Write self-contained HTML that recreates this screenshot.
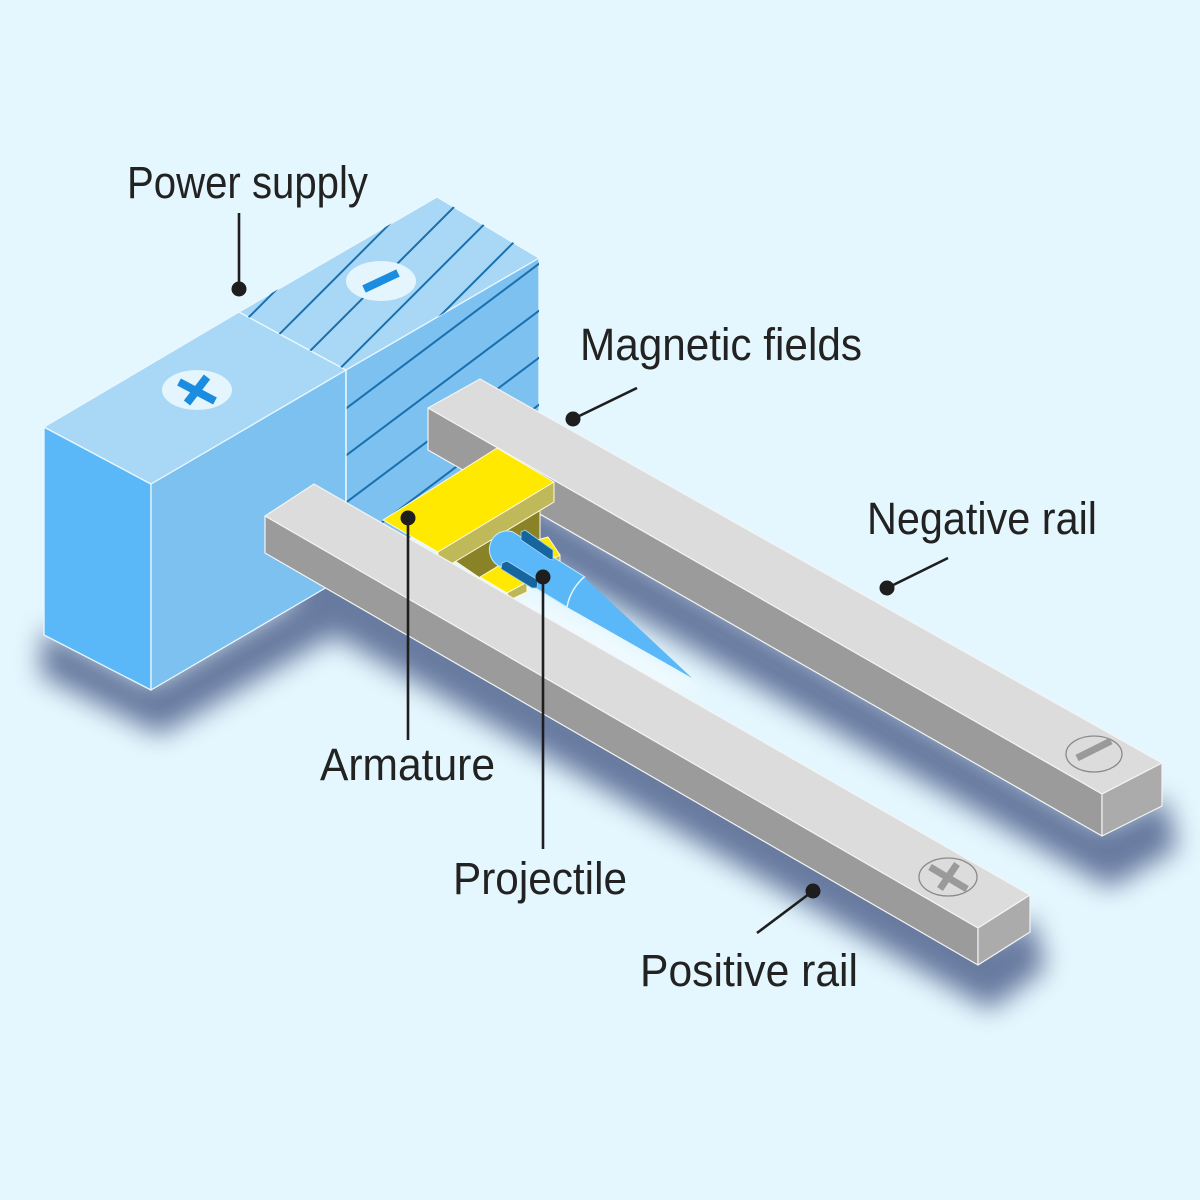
<!DOCTYPE html>
<html>
<head>
<meta charset="utf-8">
<style>
  html,body{margin:0;padding:0;background:#e5f7fe;}
  svg{display:block;}
  text{font-family:"Liberation Sans Narrow","Liberation Sans",sans-serif;fill:#222;font-size:45px;}
</style>
</head>
<body>
<svg width="1200" height="1200" viewBox="0 0 1200 1200" xmlns="http://www.w3.org/2000/svg">
  <defs>
    <filter id="blur" x="-30%" y="-30%" width="160%" height="160%"><feGaussianBlur stdDeviation="13"/></filter>
    <filter id="blur2" x="-30%" y="-30%" width="160%" height="160%"><feGaussianBlur stdDeviation="7"/></filter>
    <clipPath id="topMinus"><polygon points="239,312 437,197 539,258 346,370"/></clipPath>
    <clipPath id="rightMinus"><polygon points="346,370 539,258 539,463 346,576"/></clipPath>
  </defs>

  <rect width="1200" height="1200" fill="#e5f7fe"/>

  <!-- shadows -->
  <g filter="url(#blur)" fill="#5a6d95" opacity="0.9">
    <polygon points="44,628 151,684 330,580 335,635 160,735 40,675"/>
    <polygon points="300,540 990,940 1032,918 1046,968 990,1010 290,610"/>
    <polygon points="430,440 1102,826 1165,798 1178,848 1110,888 430,500"/>
  </g>

  <!-- glow near projectile -->
  <polygon points="510,588 600,628 700,688 650,698 520,628" fill="#eefaff" filter="url(#blur2)"/>

  <!-- power supply box -->
  <g stroke="#eaf7ff" stroke-width="1.3" stroke-linejoin="round">
    <polygon points="44,427 151,484 151,690 44,635" fill="#5ab8f8"/>
    <polygon points="151,484 346,370 346,576 151,690" fill="#7cc1ef"/>
    <polygon points="346,370 539,258 539,463 346,576" fill="#7cc1ef"/>
    <polygon points="44,427 239,312 346,370 151,484" fill="#a8d8f6"/>
    <polygon points="239,312 437,197 539,258 346,370" fill="#a8d8f6"/>
  </g>

  <!-- hatch on minus block -->
  <g clip-path="url(#topMinus)" stroke="#1a6fae" stroke-width="2">
    <line x1="200" y1="366" x2="600" y2="-34"/>
    <line x1="200" y1="413.5" x2="600" y2="13.5"/>
    <line x1="200" y1="461" x2="600" y2="61"/>
    <line x1="200" y1="508.5" x2="600" y2="108.5"/>
    <line x1="200" y1="556" x2="600" y2="156"/>
  </g>
  <g clip-path="url(#rightMinus)" stroke="#1a6fae" stroke-width="2">
    <line x1="340" y1="413" x2="545" y2="259.25"/>
    <line x1="340" y1="460" x2="545" y2="306.25"/>
    <line x1="340" y1="507" x2="545" y2="353.25"/>
    <line x1="340" y1="554" x2="545" y2="400.25"/>
    <line x1="340" y1="601" x2="545" y2="447.25"/>
    <line x1="340" y1="648" x2="545" y2="494.25"/>
    <line x1="340" y1="695" x2="545" y2="541.25"/>
  </g>
  <line x1="346" y1="370" x2="346" y2="576" stroke="#eaf7ff" stroke-width="1.3"/>

  <!-- box symbols -->
  <ellipse cx="197" cy="390" rx="35" ry="20" fill="#e4f5fd"/>
  <line x1="179" y1="382" x2="215" y2="401" stroke="#1a8de0" stroke-width="8"/>
  <line x1="207" y1="377" x2="187" y2="403" stroke="#1a8de0" stroke-width="8"/>
  <ellipse cx="381" cy="281" rx="35" ry="20" fill="#e4f5fd"/>
  <line x1="364" y1="289" x2="398" y2="273" stroke="#1a8de0" stroke-width="8"/>

  <!-- negative rail -->
  <g stroke="#f4f4f4" stroke-width="1.2" stroke-linejoin="round">
    <polygon points="428,408 480,379 1162,763 1102,794" fill="#dcdcdc"/>
    <polygon points="428,408 1102,794 1102,836 428,450" fill="#9b9b9b"/>
    <polygon points="1102,794 1162,763 1162,806 1102,836" fill="#ababab"/>
  </g>
  <ellipse cx="1094" cy="754" rx="28" ry="18" fill="none" stroke="#8a8a8a" stroke-width="1.3"/>
  <line x1="1077" y1="758" x2="1111" y2="741" stroke="#9a9a9a" stroke-width="7"/>

  <!-- armature -->
  <g stroke="#fffbe0" stroke-width="1" stroke-linejoin="round">
    <polygon points="455,561 540,510 540,543 500,566 480,578" fill="#8a8226"/>
    <polygon points="480,577 500,565 527,582 507,593" fill="#ffe900"/>
    <polygon points="507,593 527,582 527,592 510,600" fill="#bdb757"/>
    <polygon points="537,540 548,537 560,555 555,558" fill="#ffe900"/>
    <polygon points="555,558 560,555 560,562 556,564" fill="#bdb757"/>
    <polygon points="383,520 497,448 554,482 438,552" fill="#ffe900"/>
    <polygon points="438,552 554,482 554,502 438,572" fill="#bfb95a"/>
  </g>

  <!-- projectile -->
  <path d="M513,532 L585,577 L567,607 L501,567 A17 18 0 0 1 513,532 Z" fill="#5ab8f8" stroke="#c6ebfd" stroke-width="1"/>
  <path d="M584,577 L692,678 L567,607 Q570,590 584,577 Z" fill="#5ab8f8"/>
  <path d="M584,577 Q570,590 567,607" fill="none" stroke="#e6f7ff" stroke-width="1.5"/>
  <polygon points="521,532 525,530 553,550 553,560 549,559 521,540" fill="#17659f" stroke="#9fd6f7" stroke-width="0.8"/>
  <polygon points="502,563 507,561 538,580 537,588 532,588 501,569" fill="#17659f" stroke="#9fd6f7" stroke-width="0.8"/>

  <!-- positive rail -->
  <g stroke="#f4f4f4" stroke-width="1.2" stroke-linejoin="round">
    <polygon points="265,516 314,484 1030,895 978,928" fill="#dcdcdc"/>
    <polygon points="265,516 978,928 978,965 265,553" fill="#9b9b9b"/>
    <polygon points="978,928 1030,895 1030,932 978,965" fill="#ababab"/>
  </g>
  <ellipse cx="948" cy="877" rx="29" ry="19" fill="none" stroke="#8a8a8a" stroke-width="1.3"/>
  <line x1="930" y1="867" x2="967" y2="889" stroke="#9a9a9a" stroke-width="7"/>
  <line x1="957" y1="864" x2="940" y2="889" stroke="#9a9a9a" stroke-width="7"/>

  <!-- leader lines -->
  <g stroke="#1e1e1e" stroke-width="2.6" fill="none">
    <line x1="239" y1="213" x2="239" y2="289"/>
    <line x1="637" y1="388" x2="573" y2="419"/>
    <line x1="948" y1="558" x2="887" y2="588"/>
    <line x1="408" y1="518" x2="408" y2="740"/>
    <line x1="543" y1="577" x2="543" y2="849"/>
    <line x1="813" y1="891" x2="757" y2="933"/>
  </g>
  <g fill="#1e1e1e">
    <circle cx="239" cy="289" r="7.5"/>
    <circle cx="573" cy="419" r="7.5"/>
    <circle cx="887" cy="588" r="7.5"/>
    <circle cx="408" cy="518" r="7.5"/>
    <circle cx="543" cy="577" r="7.5"/>
    <circle cx="813" cy="891" r="7.5"/>
  </g>

  <!-- labels -->
  <text x="127" y="198" textLength="241" lengthAdjust="spacingAndGlyphs">Power supply</text>
  <text x="580" y="360" textLength="282" lengthAdjust="spacingAndGlyphs">Magnetic fields</text>
  <text x="867" y="534" textLength="230" lengthAdjust="spacingAndGlyphs">Negative rail</text>
  <text x="320" y="780" textLength="175" lengthAdjust="spacingAndGlyphs">Armature</text>
  <text x="453" y="894" textLength="174" lengthAdjust="spacingAndGlyphs">Projectile</text>
  <text x="640" y="986" textLength="218" lengthAdjust="spacingAndGlyphs">Positive rail</text>
</svg>
</body>
</html>
